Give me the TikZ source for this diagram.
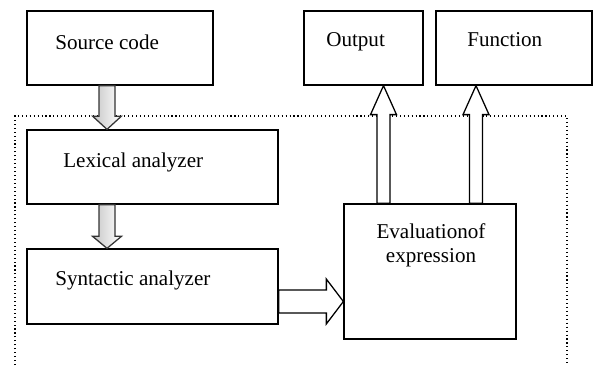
\documentclass[tikz,border=0pt]{standalone}
\usepackage{fontspec}
\setmainfont{Liberation Serif}
\usetikzlibrary{calc}

\tikzset{
  box/.style={draw, line width=0.9pt, inner sep=0pt},
  txt/.style={inner sep=0pt},
  hollow/.style={draw, line width=0.9pt, fill=white},
  greyarrow/.style={draw=black!80, line width=0.9pt, left color=gray!45, right color=white}
}

% block arrow: #1 style, #2 start, #3 tip, #4 shaft half width, #5 head half width, #6 head length
\newcommand{\blockarrow}[6]{%
  \coordinate (hb) at ($(#3)!#6!(#2)$);
  \path[#1] ($(#2)!#4!90:(#3)$) -- ($(hb)!#4!-90:(#2)$) -- ($(hb)!#5!-90:(#2)$) -- (#3)
    -- ($(hb)!#5!90:(#2)$) -- ($(hb)!#4!90:(#2)$) -- ($(#2)!#4!-90:(#3)$) -- cycle;
}

\begin{document}
\begin{tikzpicture}[font=\fontsize{15}{17.5}\selectfont]
        \useasboundingbox (0,0) rectangle (14.85,9.125);
        \draw[dotted, line width=0.8pt] (0.375,0) |- (14.175,6.225) -- (14.175,0);

        \node[box, minimum width=4.65cm, minimum height=1.85cm] (src) at (3.0,7.925) {};
        \node[txt, right] at (1.375,8.075) {Source code};
        \node[box, minimum width=6.275cm, minimum height=1.85cm] (lex) at (3.8125,4.95) {};
        \node[txt, right] at (1.575,5.075) {Lexical analyzer};
        \node[box, minimum width=6.275cm, minimum height=1.875cm] (syn) at (3.8125,1.9625) {};
        \node[txt, right] at (1.375,2.125) {Syntactic analyzer};
        \node[box, minimum width=2.975cm, minimum height=1.85cm] (out) at (9.0875,7.925) {};
        \node[txt, right] at (8.15,8.075) {Output};
        \node[box, minimum width=3.9cm, minimum height=1.85cm] (fun) at (12.85,7.925) {};
        \node[txt, right] at (11.675,8.125) {Function};
        \node[box, minimum width=4.3cm, minimum height=3.375cm] (eval) at (10.75,2.3375) {};
        \node[txt, align=center] at (10.775,2.99) {Evaluationof\\expression};

        \coordinate (dn) at (2.675,0);
        \coordinate (up1) at (9.5875,0);
        \coordinate (up2) at (11.9,0);
        \coordinate (rt) at (0,1.5875);

        \blockarrow{greyarrow}{src.south -| dn}{lex.north -| dn}{0.2cm}{0.36cm}{0.33cm}
        \blockarrow{greyarrow}{lex.south -| dn}{syn.north -| dn}{0.2cm}{0.36cm}{0.3cm}
        \blockarrow{hollow}{syn.east |- rt}{eval.west |- rt}{0.29cm}{0.56cm}{0.425cm}
        \blockarrow{hollow}{eval.north -| up1}{out.south -| up1}{0.165cm}{0.325cm}{0.725cm}
        \blockarrow{hollow}{eval.north -| up2}{fun.south -| up2}{0.165cm}{0.325cm}{0.725cm}
        \end{tikzpicture}
\end{document}
